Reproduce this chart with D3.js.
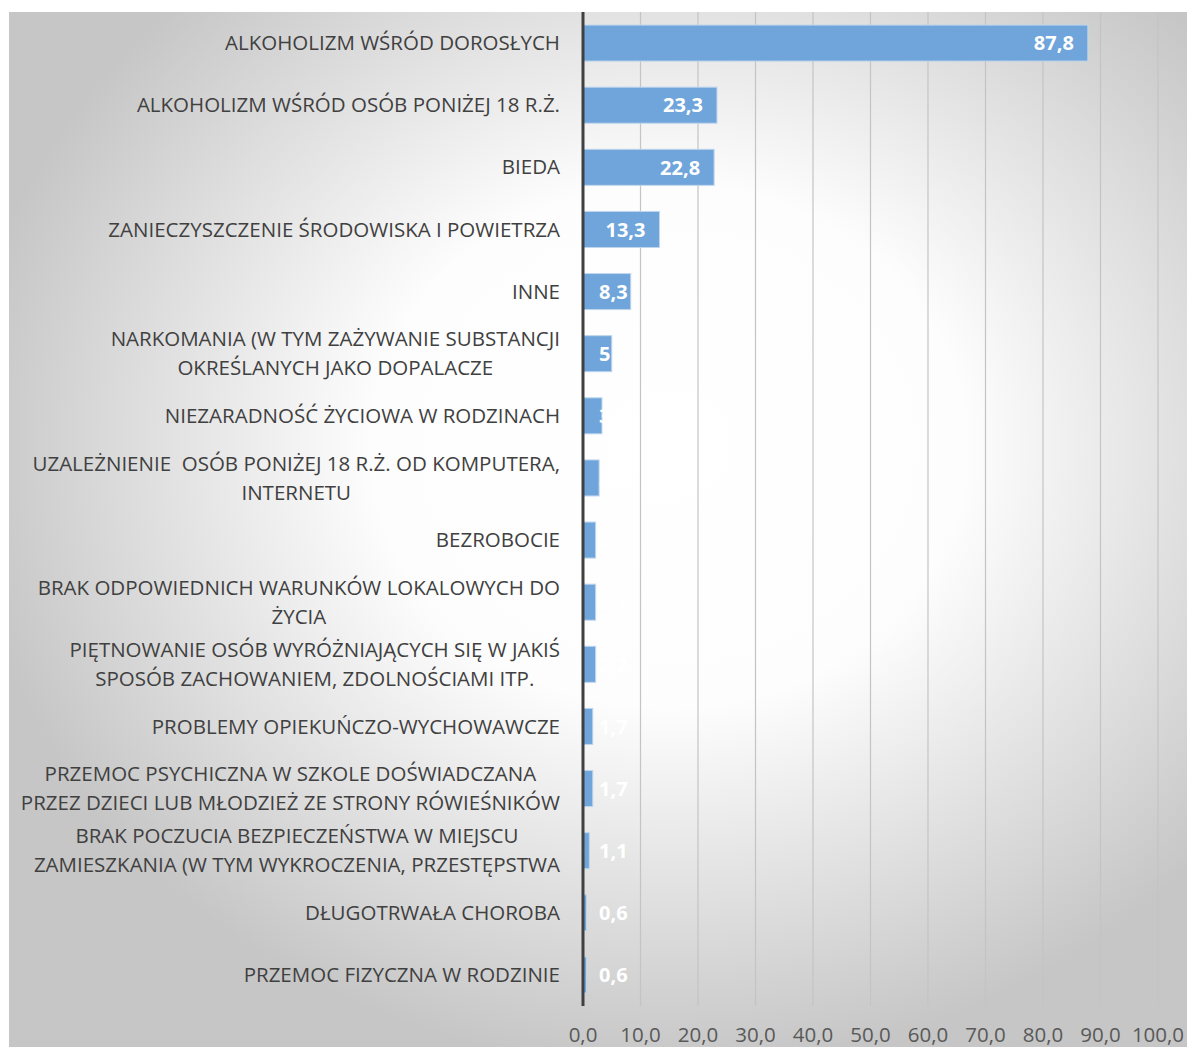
<!DOCTYPE html>
<html>
<head>
<meta charset="utf-8">
<script src="https://cdn.jsdelivr.net/npm/d3@7"></script>
<style>
  body { margin: 0; background: #fff; }
  svg { display: block; }
</style>
</head>
<body>
<div id="chart"></div>
<script>
// Data
const categories = [
  "ALKOHOLIZM WŚRÓD DOROSŁYCH",
  "ALKOHOLIZM WŚRÓD OSÓB PONIŻEJ 18 R.Ż.",
  "BIEDA",
  "ZANIECZYSZCZENIE ŚRODOWISKA I POWIETRZA",
  "INNE",
  "NARKOMANIA (W TYM ZAŻYWANIE SUBSTANCJI\nOKREŚLANYCH JAKO DOPALACZE",
  "NIEZARADNOŚĆ ŻYCIOWA W RODZINACH",
  "UZALEŻNIENIE  OSÓB PONIŻEJ 18 R.Ż. OD KOMPUTERA,\nINTERNETU",
  "BEZROBOCIE",
  "BRAK ODPOWIEDNICH WARUNKÓW LOKALOWYCH DO\nŻYCIA",
  "PIĘTNOWANIE OSÓB WYRÓŻNIAJĄCYCH SIĘ W JAKIŚ\nSPOSÓB ZACHOWANIEM, ZDOLNOŚCIAMI ITP.",
  "PROBLEMY OPIEKUŃCZO-WYCHOWAWCZE",
  "PRZEMOC PSYCHICZNA W SZKOLE DOŚWIADCZANA\nPRZEZ DZIECI LUB MŁODZIEŻ ZE STRONY RÓWIEŚNIKÓW",
  "BRAK POCZUCIA BEZPIECZEŃSTWA W MIEJSCU\nZAMIESZKANIA (W TYM WYKROCZENIA, PRZESTĘPSTWA",
  "DŁUGOTRWAŁA CHOROBA",
  "PRZEMOC FIZYCZNA W RODZINIE"
];
const values = [87.8, 23.3, 22.8, 13.3, 8.3, 5, 3.3, 2.8, 2.2, 2.2, 2.2, 1.7, 1.7, 1.1, 0.6, 0.6];
const valueLabels = ["87,8", "23,3", "22,8", "13,3", "8,3", "5", "3,3", "2,8", "2,2", "2,2", "2,2", "1,7", "1,7", "1,1", "0,6", "0,6"];
const xTicks = [0, 10, 20, 30, 40, 50, 60, 70, 80, 90, 100];

const width = 1187, height = 1047;
const plot = { left: 583, right: 1158, top: 12, bottom: 1006 };

const svg = d3.select("#chart").append("svg")
  .attr("width", width)
  .attr("height", height);

// background gradient
const defs = svg.append("defs");
const grad = defs.append("radialGradient")
  .attr("id", "bg")
  .attr("cx", 0.56).attr("cy", 0.42).attr("r", 0.6);
grad.append("stop").attr("offset", 0).attr("stop-color", "#ffffff");
grad.append("stop").attr("offset", 0.42).attr("stop-color", "#fdfdfd");
grad.append("stop").attr("offset", 1).attr("stop-color", "#c6c6c6");

svg.append("rect")
  .attr("x", 9).attr("y", 12)
  .attr("width", width - 9).attr("height", height - 12)
  .attr("fill", "url(#bg)");

const x = d3.scaleLinear().domain([0, 100]).range([plot.left, plot.right]);
const y = d3.scaleBand().domain(categories).range([plot.top, plot.bottom])
  .paddingInner(0.42).paddingOuter(0.21);

// grid
svg.append("g")
  .selectAll("line")
  .data(xTicks.slice(1))
  .enter().append("line")
  .attr("x1", d => x(d)).attr("x2", d => x(d))
  .attr("y1", plot.top).attr("y2", plot.bottom)
  .attr("stroke", "#c4c4c4")
  .attr("stroke-width", 1.2);

// tick labels
svg.append("g")
  .selectAll("text")
  .data(xTicks)
  .enter().append("text")
  .attr("x", d => x(d))
  .attr("y", 1042)
  .attr("text-anchor", "middle")
  .attr("font-family", "Open Sans")
  .attr("font-size", 20.5)
  .attr("fill", "#595959")
  .text(d => d.toFixed(1).replace(".", ","));

// bars
svg.append("g")
  .selectAll("rect")
  .data(values)
  .enter().append("rect")
  .attr("x", x(0))
  .attr("y", (d, i) => y(categories[i]))
  .attr("width", d => x(d) - x(0))
  .attr("height", y.bandwidth())
  .attr("fill", "#6fa5da")
  .attr("stroke", "#c0d6ee")
  .attr("stroke-width", 1);

// axis line
svg.append("line")
  .attr("x1", x(0)).attr("x2", x(0))
  .attr("y1", plot.top).attr("y2", plot.bottom)
  .attr("stroke", "#404040")
  .attr("stroke-width", 3);

// category labels
const catG = svg.append("g")
  .attr("font-family", "Open Sans")
  .attr("font-size", 20.5)
  .attr("fill", "#404040");

categories.forEach((c, i) => {
  const lines = c.split("\n");
  const cy = y(c) + y.bandwidth() / 2;
  const t = catG.append("text").attr("text-anchor", lines.length > 1 ? "middle" : "end")
    .style("white-space", "pre");
  if (lines.length === 1) {
    t.attr("x", 560).attr("y", cy).attr("dy", "0.35em").text(c);
  } else {
    const spans = lines.map((l, k) => t.append("tspan")
      .attr("y", cy + (k - (lines.length - 1) / 2) * 29)
      .attr("dy", "0.35em")
      .text(l));
    const maxW = d3.max(spans, s => s.node().getComputedTextLength());
    spans.forEach(s => s.attr("x", 560 - maxW / 2));
  }
});

// value labels
const valG = svg.append("g")
  .attr("font-family", "Open Sans")
  .attr("font-size", 20)
  .attr("font-weight", "bold")
  .attr("fill", "#ffffff");

values.forEach((v, i) => {
  const t = valG.append("text")
    .attr("text-anchor", "end")
    .attr("y", y(categories[i]) + y.bandwidth() / 2)
    .attr("dy", "0.36em")
    .text(valueLabels[i]);
  const w = t.node().getComputedTextLength();
  t.attr("x", Math.max(x(v) - 14, x(0) + 16 + w));
});
</script>
</body>
</html>
